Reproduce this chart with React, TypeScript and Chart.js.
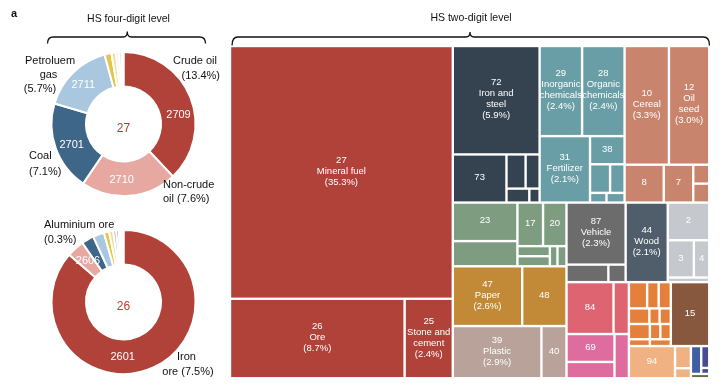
import React, { useEffect, useRef } from "react";
import { Chart, registerables } from "chart.js";
Chart.register(...registerables);

const FONT = "'Liberation Sans', Arial, Helvetica, sans-serif";

// ---------- HS 27 (mineral fuel): four-digit shares, % of total trade
const fuelCodes = ["2709", "2710", "2701", "2711", "2712", "2713", "2714", "2715", "2716"];
const fuelShares = [13.4, 7.6, 7.1, 5.7, 0.55, 0.35, 0.25, 0.2, 0.15];
const fuelColors = ["#b1423a", "#e7a8a1", "#3e6689", "#a9c8df", "#e4c54a", "#efdf95", "#f4ebc8", "#b8abd7", "#8e80c3"];

// ---------- HS 26 (ore): four-digit shares, % of total trade
const oreCodes = ["2601", "2606", "2603", "2604", "2608", "2607", "2610", "2611", "2617"];
const oreShares = [7.5, 0.34, 0.24, 0.22, 0.1, 0.08, 0.06, 0.05, 0.09];
const oreColors = ["#b1423a", "#e7a8a1", "#3e6689", "#a9c8df", "#e4c54a", "#efdf95", "#b8abd7", "#8e80c3", "#ffffff"];

// ---------- HS two-digit treemap
const tmCodes = [
  "27", "26", "25",
  "72", "73", "74", "76", "75", "81",
  "29", "28", "31", "38", "30", "32", "33", "34",
  "10", "12", "8", "7", "9", "11",
  "23", "21", "17", "20", "19", "22", "18", "16",
  "47", "48", "39", "40",
  "87", "88", "86", "44", "2", "3", "4", "5",
  "84", "85", "69", "70", "68",
  "61", "62", "63", "64", "65", "66", "41", "42", "43", "57", "58",
  "15", "94", "95", "96", "52", "54", "55", "50",
];
const tmShares = [
  35.3, 8.7, 2.4,
  5.9, 1.62, 0.41, 0.3, 0.2, 0.09,
  2.4, 2.4, 2.1, 0.61, 0.36, 0.26, 0.1, 0.11,
  3.3, 3.0, 0.93, 0.7, 0.19, 0.19,
  1.56, 1.02, 0.7, 0.64, 0.205, 0.205, 0.096, 0.114,
  2.6, 1.66, 2.9, 0.82,
  2.3, 0.46, 0.19, 2.1, 0.98, 0.61, 0.36, 0.12,
  1.53, 0.5, 0.84, 0.49, 0.4,
  0.3, 0.19, 0.2, 0.2, 0.1, 0.11, 0.2, 0.1, 0.1, 0.09, 0.09,
  1.54, 0.93, 0.22, 0.1, 0.18, 0.11, 0.03, 0.05,
];
const tmGroups = [
  "fuel", "fuel", "fuel",
  "metal", "metal", "metal", "metal", "metal", "metal",
  "chem", "chem", "chem", "chem", "chem", "chem", "chem", "chem",
  "agri", "agri", "agri", "agri", "agri", "agri",
  "food", "food", "food", "food", "food", "food", "food", "food",
  "paper", "paper", "plastic", "plastic",
  "vehicle", "vehicle", "vehicle", "wood", "animal", "animal", "animal", "animal",
  "machine", "machine", "ceramic", "ceramic", "ceramic",
  "textile", "textile", "textile", "textile", "textile", "textile", "textile", "textile", "textile", "textile", "textile",
  "fat", "misc", "misc", "misc", "blue", "indigo", "indigo", "olive",
];
const tmGroupColors: Record<string, string> = {
  fuel: "#b1423a", metal: "#34434f", chem: "#6a9ea6", agri: "#c8846d", food: "#7d9c80",
  paper: "#c28937", plastic: "#b8a29a", vehicle: "#6c6c6c", wood: "#4f5e6a", animal: "#c5c9ce",
  machine: "#df6472", ceramic: "#df6c9e", textile: "#e4803c", fat: "#87583d", misc: "#f0b283",
  blue: "#3f5ea5", indigo: "#4a4c92", olive: "#6b6a3c",
};
const tmLabeled = ["27", "26", "25", "72", "73", "29", "28", "31", "38", "10", "12", "8", "7", "23", "17", "20",
  "87", "44", "2", "3", "4", "47", "48", "39", "40", "84", "69", "15", "94"];
const tmNamedCodes = ["27", "26", "25", "72", "29", "28", "31", "10", "12", "87", "44", "47", "39"];
const tmNames = ["Mineral fuel", "Ore", "Stone and\ncement", "Iron and\nsteel", "Inorganic\nchemicals",
  "Organic\nchemicals", "Fertilizer", "Cereal", "Oil\nseed", "Vehicle", "Wood", "Paper", "Plastic"];

// slice-and-dice structure (h = side by side, v = stacked); sizes come from the shares
type TNode = string | any[];
const tmLayout: TNode = ["h",
  ["v", "27", ["h", "26", "25"]],
  ["v",
    ["h",
      ["v", "72", ["h", "73", ["v", ["h", "74", "76"], ["h", "75", "81"]]]],
      ["v", ["h", "29", "28"], ["h", "31", ["v", "38", ["h", "30", "32"], ["h", "33", "34"]]]],
      ["v", ["h", "10", "12"], ["h", "8", "7", ["v", "9", "11"]]],
    ],
    ["h",
      ["v",
        ["h", ["v", "23", "21"], ["v", ["h", "17", "20"], ["h", ["v", "19", "22"], "18", "16"]]],
        ["h", "47", "48"],
        ["h", "39", "40"],
      ],
      ["v",
        ["h", ["v", "87", ["h", "88", "86"]], "44", ["v", "2", ["h", "3", "4"], "5"]],
        ["h",
          ["v", ["h", "84", "85"], ["h", ["v", "69", "70"], "68"]],
          ["v",
            ["h", ["v", ["h", "61", "62", "63"], ["h", "64", "65", "66"], ["h", "41", "42", "43"], ["h", "57", "58"]], "15"],
            ["h", "94", ["v", "95", "96"], ["v", ["h", "52", ["v", "54", "55"]], "50"]],
          ],
        ],
      ],
    ],
  ],
];

function nodeSum(n: TNode): number {
  if (typeof n === "string") return tmShares[tmCodes.indexOf(n)];
  let s = 0;
  for (let i = 1; i < n.length; i++) s += nodeSum(n[i]);
  return s;
}
type Cell = { code: string; x0: number; y0: number; x1: number; y1: number };
function layoutNode(n: TNode, x0: number, y0: number, x1: number, y1: number, out: Cell[]) {
  if (typeof n === "string") {
    out.push({ code: n, x0, y0, x1, y1 });
    return;
  }
  const dir = n[0];
  const kids = n.slice(1);
  const total = kids.reduce((s: number, k: TNode) => s + nodeSum(k), 0);
  let acc = 0;
  for (const k of kids) {
    const v = nodeSum(k);
    if (dir === "h") {
      layoutNode(k, x0 + ((x1 - x0) * acc) / total, y0, x0 + ((x1 - x0) * (acc + v)) / total, y1, out);
    } else {
      layoutNode(k, x0, y0 + ((y1 - y0) * acc) / total, x1, y0 + ((y1 - y0) * (acc + v)) / total, out);
    }
    acc += v;
  }
}

function drawBrace(ctx: CanvasRenderingContext2D, x0: number, x1: number, xm: number, yLine: number, yEnd: number, yTip: number) {
  const r = 6;
  ctx.beginPath();
  ctx.moveTo(x0, yEnd);
  ctx.quadraticCurveTo(x0, yLine, x0 + r, yLine);
  ctx.lineTo(xm - 4, yLine);
  ctx.quadraticCurveTo(xm, yLine, xm, yTip);
  ctx.quadraticCurveTo(xm, yLine, xm + 4, yLine);
  ctx.lineTo(x1 - r, yLine);
  ctx.quadraticCurveTo(x1, yLine, x1, yEnd);
  ctx.stroke();
}

function Treemap() {
  const ref = useRef<HTMLCanvasElement>(null);
  useEffect(() => {
    const chart = new Chart(ref.current!, {
      type: "scatter",
      data: { datasets: [{ data: [] }] },
      options: {
        responsive: false,
        animation: false,
        layout: { padding: { left: 230, top: 46, right: 15.75, bottom: 8.75 } },
        scales: {
          x: { type: "linear", min: 0, max: 1, display: false },
          y: { type: "linear", min: 0, max: 1, reverse: true, display: false },
        },
        plugins: { legend: { display: false }, tooltip: { enabled: false } },
      },
      plugins: [
        {
          id: "treemapCells",
          afterDraw(c: any) {
            const ctx: CanvasRenderingContext2D = c.ctx;
            const xs = c.scales.x;
            const ys = c.scales.y;
            const cells: Cell[] = [];
            layoutNode(tmLayout, 0, 0, 1, 1, cells);
            const g = 1.2;
            ctx.save();
            for (const r of cells) {
              const i = tmCodes.indexOf(r.code);
              const px0 = xs.getPixelForValue(r.x0);
              const px1 = xs.getPixelForValue(r.x1);
              const py0 = ys.getPixelForValue(r.y0);
              const py1 = ys.getPixelForValue(r.y1);
              ctx.fillStyle = tmGroupColors[tmGroups[i]];
              ctx.fillRect(px0 + g, py0 + g, px1 - px0 - 2 * g, py1 - py0 - 2 * g);
            }
            ctx.fillStyle = "#ffffff";
            ctx.textAlign = "center";
            ctx.textBaseline = "middle";
            ctx.font = `9.5px ${FONT}`;
            for (const r of cells) {
              if (!tmLabeled.includes(r.code)) continue;
              const i = tmCodes.indexOf(r.code);
              const lines = [r.code];
              const ni = tmNamedCodes.indexOf(r.code);
              if (ni >= 0) {
                lines.push(...tmNames[ni].split("\n"));
                lines.push(`(${tmShares[i].toFixed(1)}%)`);
              }
              const cx = (xs.getPixelForValue(r.x0) + xs.getPixelForValue(r.x1)) / 2;
              const cy = (ys.getPixelForValue(r.y0) + ys.getPixelForValue(r.y1)) / 2 - 1;
              const lh = 11;
              lines.forEach((t, k) => ctx.fillText(t, cx, cy + (k - (lines.length - 1) / 2) * lh));
            }
            // titles and braces
            ctx.fillStyle = "#111111";
            ctx.font = `10.5px ${FONT}`;
            ctx.fillText("HS four-digit level", 128.5, 19);
            ctx.fillText("HS two-digit level", 471, 18.5);
            ctx.font = `bold 11px ${FONT}`;
            ctx.textAlign = "left";
            ctx.fillText("a", 11, 14);
            ctx.strokeStyle = "#111111";
            ctx.lineWidth = 1.3;
            drawBrace(ctx, 47.5, 205.5, 127.3, 37, 43.5, 31.5);
            drawBrace(ctx, 232, 709.5, 470, 37, 45.5, 32);
            ctx.restore();
          },
        },
      ],
    } as any);
    return () => chart.destroy();
  }, []);
  return <canvas ref={ref} width={725} height={387} style={{ position: "absolute", left: 0, top: 0, width: 725, height: 387 }} />;
}

type TextItem = { t: string; x: number; y: number; align: CanvasTextAlign };

function Donut(props: {
  top: number;
  codes: string[];
  shares: number[];
  colors: string[];
  center: string;
  texts: TextItem[];
  sliceLabels: TextItem[];
}) {
  const ref = useRef<HTMLCanvasElement>(null);
  useEffect(() => {
    const { top, codes, shares, colors, center, texts, sliceLabels } = props;
    const chart = new Chart(ref.current!, {
      type: "doughnut",
      data: {
        labels: codes,
        datasets: [{ data: shares, backgroundColor: colors, borderColor: "#ffffff", borderWidth: 2 }],
      },
      options: {
        responsive: false,
        animation: false,
        radius: 72,
        cutout: `${(37.5 / 72) * 100}%`,
        layout: { padding: 0 },
        plugins: { legend: { display: false }, tooltip: { enabled: false } },
      },
      plugins: [
        {
          id: "donutText",
          afterDraw(c: any) {
            const ctx: CanvasRenderingContext2D = c.ctx;
            const ca = c.chartArea;
            ctx.save();
            ctx.textBaseline = "middle";
            ctx.font = `12px ${FONT}`;
            ctx.fillStyle = "#c0392f";
            ctx.textAlign = "center";
            ctx.fillText(center, (ca.left + ca.right) / 2, (ca.top + ca.bottom) / 2 + 5);
            ctx.font = `11px ${FONT}`;
            ctx.fillStyle = "#ffffff";
            for (const s of sliceLabels) {
              ctx.textAlign = s.align;
              ctx.fillText(s.t, s.x, s.y - top);
            }
            ctx.fillStyle = "#111111";
            for (const s of texts) {
              ctx.textAlign = s.align;
              ctx.fillText(s.t, s.x, s.y - top);
            }
            ctx.restore();
          },
        },
      ],
    } as any);
    return () => chart.destroy();
  }, []);
  return (
    <canvas
      ref={ref}
      width={247}
      height={248}
      style={{ position: "absolute", left: 0, top: props.top, width: 247, height: 248 }}
    />
  );
}

export default function App() {
  const fuelTexts: TextItem[] = [
    { t: "Crude oil", x: 217, y: 61, align: "right" },
    { t: "(13.4%)", x: 220, y: 76, align: "right" },
    { t: "Petroluem", x: 50, y: 61, align: "center" },
    { t: "gas", x: 48.5, y: 74.5, align: "center" },
    { t: "(5.7%)", x: 40, y: 89, align: "center" },
    { t: "Coal", x: 29, y: 156, align: "left" },
    { t: "(7.1%)", x: 29, y: 171.5, align: "left" },
    { t: "Non-crude", x: 163, y: 184.5, align: "left" },
    { t: "oil (7.6%)", x: 163, y: 199, align: "left" },
  ];
  const fuelSlice: TextItem[] = [
    { t: "2709", x: 178.5, y: 115, align: "center" },
    { t: "2710", x: 121.7, y: 180, align: "center" },
    { t: "2701", x: 71.7, y: 145, align: "center" },
    { t: "2711", x: 83.3, y: 85, align: "center" },
  ];
  const oreTexts: TextItem[] = [
    { t: "Aluminium ore", x: 44, y: 225, align: "left" },
    { t: "(0.3%)", x: 44, y: 240, align: "left" },
    { t: "Iron", x: 186.5, y: 356.5, align: "center" },
    { t: "ore (7.5%)", x: 188, y: 372, align: "center" },
  ];
  const oreSlice: TextItem[] = [
    { t: "2606", x: 88, y: 261, align: "center" },
    { t: "2601", x: 122.7, y: 357, align: "center" },
  ];
  return (
    <div style={{ position: "absolute", left: 0, top: 0, width: 725, height: 387, overflow: "hidden", background: "#ffffff" }}>
      <Treemap />
      <Donut top={0} codes={fuelCodes} shares={fuelShares} colors={fuelColors} center="27" texts={fuelTexts} sliceLabels={fuelSlice} />
      <Donut top={178} codes={oreCodes} shares={oreShares} colors={oreColors} center="26" texts={oreTexts} sliceLabels={oreSlice} />
    </div>
  );
}
